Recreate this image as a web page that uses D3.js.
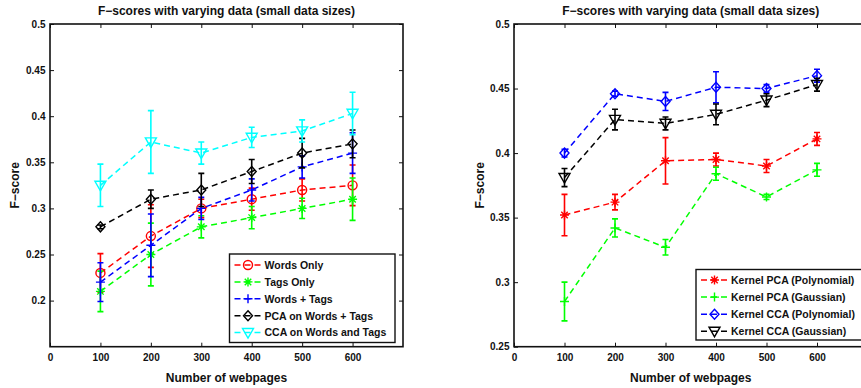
<!DOCTYPE html>
<html><head><meta charset="utf-8">
<script src="https://cdn.jsdelivr.net/npm/d3@7"></script>
<style>
body{margin:0;background:#fff;}
svg{display:block;font-family:"Liberation Sans",Arial,Helvetica,sans-serif;font-weight:bold;}
</style></head>
<body><svg id="chart" width="861" height="388"></svg>
<script>
// ---------- DATA ----------
const xValues = [100, 200, 300, 400, 500, 600];
const xTicks = [0, 100, 200, 300, 400, 500, 600];
const titleText = "F\u2212scores with varying data (small data sizes)";
const xLabelText = "Number of webpages";
const yLabelText = "F\u2212score";

// Left panel
const leftYTicks = [0.2, 0.25, 0.3, 0.35, 0.4, 0.45, 0.5];
const leftNames = ["Words Only", "Tags Only", "Words + Tags", "PCA on Words + Tags", "CCA on Words and Tags"];
const wordsOnly = [0.230, 0.270, 0.300, 0.310, 0.320, 0.325];
const wordsOnlyErr = [0.021, 0.034, 0.010, 0.012, 0.012, 0.022];
const tagsOnly = [0.210, 0.250, 0.280, 0.290, 0.300, 0.310];
const tagsOnlyErr = [0.022, 0.034, 0.012, 0.012, 0.011, 0.023];
const wordsTags = [0.220, 0.260, 0.300, 0.320, 0.345, 0.360];
const wordsTagsErr = [0.021, 0.034, 0.012, 0.012, 0.012, 0.022];
const pcaWordsTags = [0.280, 0.310, 0.320, 0.340, 0.360, 0.370];
const pcaWordsTagsErr = [0.002, 0.010, 0.018, 0.013, 0.016, 0.015];
const ccaWordsTags = [0.325, 0.372, 0.360, 0.377, 0.384, 0.403];
const ccaWordsTagsErr = [0.023, 0.034, 0.012, 0.011, 0.012, 0.023];

// Right panel
const rightYTicks = [0.25, 0.3, 0.35, 0.4, 0.45, 0.5];
const rightNames = ["Kernel PCA (Polynomial)", "Kernel PCA (Gaussian)", "Kernel CCA (Polynomial)", "Kernel CCA (Gaussian)"];
const kpcaPoly = [0.352, 0.362, 0.394, 0.395, 0.390, 0.411];
const kpcaPolyErr = [0.016, 0.006, 0.018, 0.005, 0.005, 0.005];
const kpcaGauss = [0.285, 0.342, 0.327, 0.384, 0.366, 0.387];
const kpcaGaussErr = [0.015, 0.007, 0.006, 0.005, 0.002, 0.005];
const kccaPoly = [0.400, 0.446, 0.440, 0.451, 0.450, 0.460];
const kccaPolyErr = [0.003, 0.002, 0.007, 0.012, 0.003, 0.005];
const kccaGauss = [0.381, 0.426, 0.423, 0.430, 0.441, 0.453];
const kccaGaussErr = [0.007, 0.008, 0.005, 0.008, 0.005, 0.005];

// ---------- DRAW ----------
const svg = d3.select("#chart");
const ink = "#111";

function drawMarker(g, type, cx, cy, color) {
  const r = 4.5;
  const common = s => s.attr("fill", "none").attr("stroke", color).attr("stroke-width", 1.4);
  if (type === "circle") {
    common(g.append("circle").attr("cx", cx).attr("cy", cy).attr("r", r));
  } else if (type === "diamond") {
    common(g.append("path").attr("d", `M${cx},${cy - r - 0.5}L${cx + r},${cy}L${cx},${cy + r + 0.5}L${cx - r},${cy}Z`));
  } else if (type === "triangleDown") {
    const h = r + 1;
    common(g.append("path").attr("d", `M${cx - h},${cy - h * 0.75}L${cx + h},${cy - h * 0.75}L${cx},${cy + h}Z`));
  } else if (type === "plus") {
    common(g.append("path").attr("d", `M${cx - r},${cy}L${cx + r},${cy}M${cx},${cy - r}L${cx},${cy + r}`));
  } else if (type === "star") {
    const d = r * 0.72;
    common(g.append("path").attr("d",
      `M${cx - r},${cy}L${cx + r},${cy}M${cx},${cy - r}L${cx},${cy + r}` +
      `M${cx - d},${cy - d}L${cx + d},${cy + d}M${cx - d},${cy + d}L${cx + d},${cy - d}`));
  }
}

function drawPanel(cfg) {
  const x = d3.scaleLinear().domain([0, 700]).range([cfg.left, cfg.right]);
  const y = d3.scaleLinear().domain(cfg.yDomain).range([cfg.bottom, cfg.top]);
  const g = svg.append("g");

  const tickLen = 4;
  const xAxisB = d3.axisBottom(x).tickValues(xTicks).tickSize(-tickLen).tickPadding(7).tickFormat(d3.format("d"));
  const xAxisT = d3.axisTop(x).tickValues(xTicks).tickSize(-tickLen).tickFormat("");
  const yAxisL = d3.axisLeft(y).tickValues(cfg.yTicks).tickSize(-tickLen).tickPadding(4.5).tickFormat(d => String(+d.toFixed(2)));
  const yAxisR = d3.axisRight(y).tickValues(cfg.yTicks).tickSize(-tickLen).tickFormat("");

  const styleAxis = a => {
    a.select(".domain").remove();
    a.selectAll("line").attr("stroke", ink).attr("stroke-width", 1);
    a.selectAll("text").attr("fill", ink).style("font-size", "10px").style("font-weight", "bold")
      .style("font-family", "'Liberation Sans',Arial,sans-serif");
  };
  g.append("g").attr("transform", `translate(0,${cfg.bottom})`).call(xAxisB).call(styleAxis);
  g.append("g").attr("transform", `translate(0,${cfg.top})`).call(xAxisT).call(styleAxis);
  g.append("g").attr("transform", `translate(${cfg.left},0)`).call(yAxisL).call(styleAxis);
  g.append("g").attr("transform", `translate(${cfg.right},0)`).call(yAxisR).call(styleAxis);

  g.append("rect").attr("x", cfg.left).attr("y", cfg.top)
    .attr("width", cfg.right - cfg.left).attr("height", cfg.bottom - cfg.top)
    .attr("fill", "none").attr("stroke", ink).attr("stroke-width", 1.6);

  const cx = (cfg.left + cfg.right) / 2;
  g.append("text").attr("x", cx).attr("y", 15).attr("text-anchor", "middle")
    .style("font-size", "12px").attr("fill", ink).text(titleText);
  g.append("text").attr("x", cx).attr("y", 382).attr("text-anchor", "middle")
    .style("font-size", "12px").attr("fill", ink).text(xLabelText);
  g.append("text").attr("transform", `translate(${cfg.yLabelX},${(cfg.top + cfg.bottom) / 2}) rotate(-90)`)
    .attr("text-anchor", "middle").style("font-size", "12px").attr("fill", ink).text(yLabelText);

  const line = d3.line().x((d, i) => x(xValues[i])).y(d => y(d));
  cfg.series.forEach(s => {
    const sg = g.append("g");
    sg.append("path").datum(s.values).attr("d", line).attr("fill", "none")
      .attr("stroke", s.color).attr("stroke-width", 1.5).attr("stroke-dasharray", "6,4");
    s.values.forEach((v, i) => {
      const px = x(xValues[i]);
      const lo = y(v - s.err[i]), hi = y(v + s.err[i]);
      const cw = 3;
      sg.append("path").attr("d", `M${px},${lo}L${px},${hi}M${px - cw},${lo}L${px + cw},${lo}M${px - cw},${hi}L${px + cw},${hi}`)
        .attr("stroke", s.color).attr("stroke-width", 1.6).attr("fill", "none");
      drawMarker(sg, s.marker, px, y(v), s.color);
    });
  });

  const L = cfg.legend;
  const lg = g.append("g");
  lg.append("rect").attr("x", L.x).attr("y", L.y).attr("width", L.w).attr("height", L.h)
    .attr("fill", "#fff").attr("stroke", ink).attr("stroke-width", 1.4);
  cfg.series.forEach((s, i) => {
    const ly = L.y + L.first + i * L.step;
    lg.append("line").attr("x1", L.x + 5).attr("x2", L.x + 32).attr("y1", ly).attr("y2", ly)
      .attr("stroke", s.color).attr("stroke-width", 1.5).attr("stroke-dasharray", "6,4");
    drawMarker(lg, s.marker, L.x + 18.5, ly, s.color);
    lg.append("text").attr("x", L.x + 35).attr("y", ly + 3.8).style("font-size", "10.5px")
      .attr("fill", ink).text(s.name);
  });
}

drawPanel({
  left: 50, right: 403, top: 24, bottom: 346.7,
  yDomain: [0.15, 0.5], yTicks: leftYTicks, yLabelX: 19,
  series: [
    { name: leftNames[0], values: wordsOnly, err: wordsOnlyErr, color: "#ff0000", marker: "circle" },
    { name: leftNames[1], values: tagsOnly, err: tagsOnlyErr, color: "#00ff00", marker: "star" },
    { name: leftNames[2], values: wordsTags, err: wordsTagsErr, color: "#0000ff", marker: "plus" },
    { name: leftNames[3], values: pcaWordsTags, err: pcaWordsTagsErr, color: "#000000", marker: "diamond" },
    { name: leftNames[4], values: ccaWordsTags, err: ccaWordsTagsErr, color: "#00ffff", marker: "triangleDown" }
  ],
  legend: { x: 229.5, y: 254, w: 165.5, h: 88.5, first: 11, step: 16.9 }
});

drawPanel({
  left: 514, right: 867.5, top: 24, bottom: 346.7,
  yDomain: [0.25, 0.5], yTicks: rightYTicks, yLabelX: 484,
  series: [
    { name: rightNames[0], values: kpcaPoly, err: kpcaPolyErr, color: "#ff0000", marker: "star" },
    { name: rightNames[1], values: kpcaGauss, err: kpcaGaussErr, color: "#00ff00", marker: "plus" },
    { name: rightNames[2], values: kccaPoly, err: kccaPolyErr, color: "#0000ff", marker: "diamond" },
    { name: rightNames[3], values: kccaGauss, err: kccaGaussErr, color: "#000000", marker: "triangleDown" }
  ],
  legend: { x: 696, y: 269.5, w: 170, h: 70.5, first: 10.5, step: 17.1 }
});
</script>
</body></html>
